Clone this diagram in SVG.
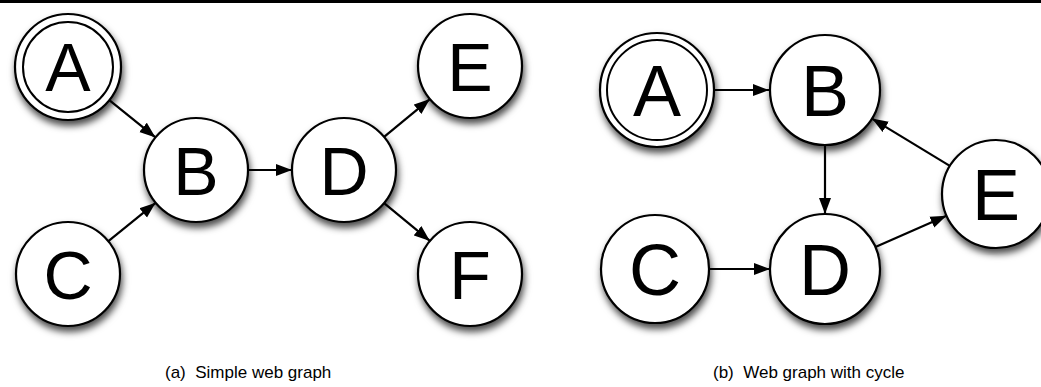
<svg xmlns="http://www.w3.org/2000/svg" width="1041" height="387" viewBox="0 0 1041 387">
<style>
.n{fill:#fff;stroke:#000;stroke-width:2.2}
.in{fill:none;stroke:#000;stroke-width:2}
.L{font-family:"Liberation Sans",Arial,sans-serif;font-size:68px;text-anchor:middle;fill:#000}
.R{font-family:"Liberation Sans",Arial,sans-serif;font-size:72px;text-anchor:middle;fill:#000}
.c{fill:none;stroke:#000;stroke-width:2.2;marker-end:url(#ah)}
.cap{font-family:"Liberation Sans",Arial,sans-serif;font-size:17px;fill:#000}
</style>
<defs>
<marker id="ah" markerUnits="userSpaceOnUse" markerWidth="17" markerHeight="13" refX="16" refY="6.5" orient="auto">
<path d="M0,0.5 L16,6.5 L0,12.5 z" fill="#000"/>
</marker>
<filter id="sh" x="-30%" y="-30%" width="160%" height="170%">
<feDropShadow dx="1.5" dy="5" stdDeviation="3.5" flood-color="#000" flood-opacity="0.7"/>
</filter>
</defs>
<rect x="0" y="0" width="1041" height="3" fill="#000"/>
<g id="connectors">
<line class="c" x1="109.3" y1="100.2" x2="155.5" y2="137.4"/>
<line class="c" x1="108.4" y1="241.2" x2="155.6" y2="202.8"/>
<line class="c" x1="248" y1="170" x2="292" y2="170"/>
<line class="c" x1="384.1" y1="136.9" x2="429.9" y2="99.1"/>
<line class="c" x1="384.1" y1="203.1" x2="429.9" y2="240.9"/>
<line class="c" x1="714" y1="90" x2="769" y2="90"/>
<line class="c" x1="825" y1="145" x2="825" y2="214"/>
<line class="c" x1="709" y1="269" x2="770" y2="269"/>
<line class="c" x1="875.4" y1="246.9" x2="946.5" y2="215.7"/>
<line class="c" x1="949.8" y1="165.9" x2="872" y2="118.6"/>
</g>
<g id="a-A"><circle class="n" cx="68" cy="67" r="53" filter="url(#sh)"/><circle class="in" cx="68" cy="67" r="45"/><text class="L" x="68" y="91">A</text></g>
<g id="a-B"><circle class="n" cx="196" cy="170" r="52" filter="url(#sh)"/><text class="L" x="196" y="195">B</text></g>
<g id="a-C"><circle class="n" cx="68" cy="274" r="52" filter="url(#sh)"/><text class="L" x="68" y="299">C</text></g>
<g id="a-D"><circle class="n" cx="344" cy="170" r="52" filter="url(#sh)"/><text class="L" x="344" y="195">D</text></g>
<g id="a-E"><circle class="n" cx="470" cy="66" r="52" filter="url(#sh)"/><text class="L" x="470" y="91">E</text></g>
<g id="a-F"><circle class="n" cx="470" cy="274" r="52" filter="url(#sh)"/><text class="L" x="470" y="299">F</text></g>
<g id="b-A"><circle class="n" cx="657" cy="90" r="57" filter="url(#sh)"/><circle class="in" cx="657" cy="90" r="50"/><text class="R" x="657" y="116">A</text></g>
<g id="b-B"><circle class="n" cx="825" cy="90" r="55" filter="url(#sh)"/><text class="R" x="825" y="116">B</text></g>
<g id="b-C"><circle class="n" cx="655" cy="269" r="54" filter="url(#sh)"/><text class="R" x="655" y="295">C</text></g>
<g id="b-D"><circle class="n" cx="825" cy="269" r="55" filter="url(#sh)"/><text class="R" x="825" y="295">D</text></g>
<g id="b-E"><circle class="n" cx="996" cy="194" r="54" filter="url(#sh)"/><text class="R" x="996" y="220">E</text></g>
<text class="cap" x="165" y="378" xml:space="preserve">(a)  Simple web graph</text>
<text class="cap" x="713" y="378" xml:space="preserve">(b)  Web graph with cycle</text>
</svg>
